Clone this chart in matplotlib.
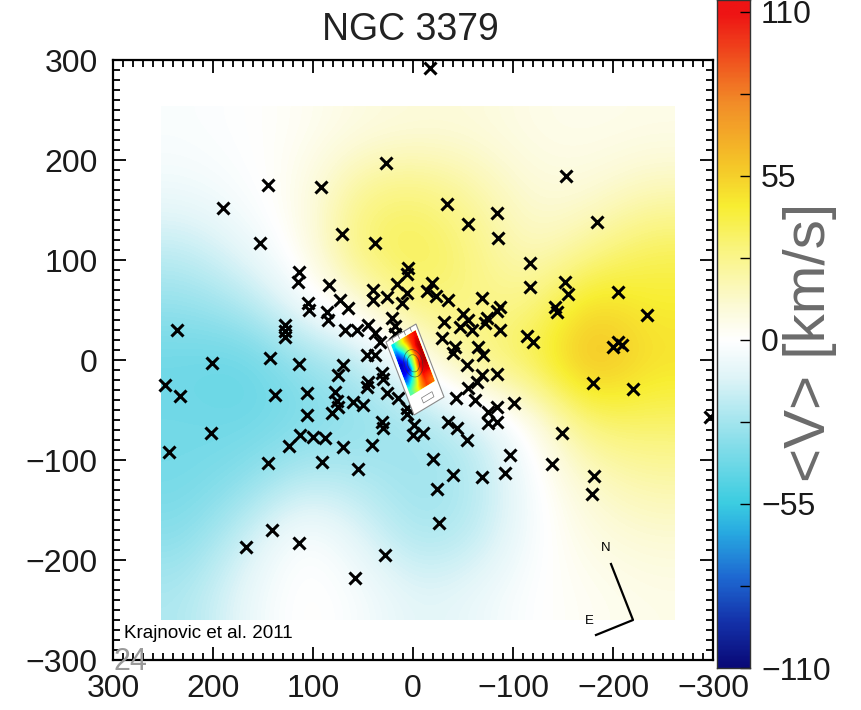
import numpy as np
import matplotlib
matplotlib.use("Agg")
import matplotlib.pyplot as plt
from matplotlib.colors import LinearSegmentedColormap, Normalize
from matplotlib.transforms import Affine2D
from matplotlib.patches import Rectangle, Ellipse
from matplotlib.ticker import MultipleLocator, FixedLocator

plt.rcParams['font.family'] = ['Liberation Sans', 'DejaVu Sans']

# ---------------------------------------------------------------------------
# Planetary nebula positions (arcsec, x = east offset, y = north offset)
pn_x = [-17, 27, 190, 145, 92, 71, 153, 38, -153, -34, -55, -84, -85, -184,
        -117, 114, 115, 84, 5, 6, 16, 6, 40, 40, 26, 11, 73, 65, 105, 104,
        86, 85, 128, 128, 128, 68, 56, 45, 38, 21, 18, 18, -19, -14, -23,
        -35, -69, -87, -84, -50, -55, -74, -72, -47, -31, -59, -87, -29,
        -114, -120, -42, -65, -117, -152, -155, -142, -144, -205, -234, -200,
        -205, -209, -180, -220, -297, -70, -54, -40, -69, -84, -64, -55, -43,
        -62, -84, -75, -101, -84, -75, -35, -44, -54, -10, -149, -97, -20,
        -139, -40, -69, -92, -181, -24, -179, -26, 167, 141, 114, 58, 28,
        236, 201, 248, 233, 202, 244, 145, 143, 114, 138, 106, 106, 70, 75,
        46, 38, 78, 76, 81, 75, 60, 50, 46, 45, 31, 30, 26, 15, 6, 6, 31, 30,
        -1, 0, 113, 100, 88, 124, 70, 41, 91, 55, 33]
pn_y = [292, 197, 152, 175, 173, 126, 117, 117, 184, 156, 136, 147, 122, 138,
        97, 88, 78, 75, 92, 86, 76, 67, 70, 60, 63, 57, 60, 52, 57, 50,
        48, 40, 35, 29, 23, 30, 30, 35, 27, 42, 34, 26, 77, 69, 64,
        60, 62, 53, 49, 46, 40, 42, 37, 33, 38, 30, 30, 22,
        24, 18, 13, 13, 73, 78, 66, 53, 48, 68, 45, 13,
        18, 15, -23, -29, -57, 5, -5, 7, -15, -14, -22, -28, -38,
        -40, -47, -52, -43, -62, -63, -62, -68, -80, -73, -73, -95, -99,
        -104, -115, -117, -113, -116, -129, -134, -163, -187, -170, -183, -218, -195,
        30, -3, -25, -36, -73, -92, -103, 2, -4, -35, -33, -55, -5, -15,
        5, 5, -32, -41, -53, -47, -42, -45, -27, -22, -13, -19, -33, -38, -48, -54, -62, -68,
        -65, -75, -75, -77, -78, -86, -87, -85, -102, -109, 18]

# Smoothed PN mean velocity field (km/s) on a coarse grid,
# rows from north (top) to south, columns from east (left) to west
field_v = [
    [-2, 0, 3, 8, 10, 10, 6, 5, 6],
    [-6, -2, 6, 28, 32, 22, 10, 10, 18],
    [-20, -8, 4, 36, 40, 30, 14, 25, 38],
    [-32, -25, -5, 10, 34, 28, 28, 55, 45],
    [-42, -45, -32, -25, 0, 32, 40, 68, 50],
    [-40, -42, -38, -32, -28, -18, 3, 35, 35],
    [-40, -35, -22, -25, -30, -25, -3, 15, 22],
    [-35, -18, 2, -12, -28, -22, -3, 8, 12],
    [-25, -8, 3, -3, -12, -8, 0, 3, 6],
]
field_extent = (252, -262, -260, 254)

# Central integral-field velocity map (relative units), rows top to bottom
inset_v = [
    [-0.3, 0.1, 0.4, 0.7, 0.8],
    [-0.6, -0.3, 0.2, 0.7, 0.9],
    [-0.9, -0.6, 0.0, 0.6, 0.9],
    [-0.8, -0.7, 0.1, 0.8, 0.9],
    [-0.5, -0.2, 0.4, 0.8, 0.8],
    [-0.1, 0.2, 0.5, 0.7, 0.6],
]
# corners of the inset map (arcsec): lower-left, lower-right, upper-left
inset_ll = (-1, -55)
inset_lr = (-31, -37)
inset_ul = (27, 18)

cbar_major = [-110, -55, 0, 55, 110]
cbar_minor = [-82.5, -27.5, 27.5, 82.5]
vmin, vmax = -110, 110

# compass arms (arcsec)
compass_x = [-198, -220, -183]
compass_y = [-204, -260, -275]

# ---------------------------------------------------------------------------
stops = [
    (-110, (10, 10, 120)),
    (-95, (20, 50, 170)),
    (-80, (30, 105, 210)),
    (-65, (40, 170, 225)),
    (-55, (60, 205, 225)),
    (-35, (135, 222, 234)),
    (-12, (225, 245, 248)),
    (0, (255, 255, 255)),
    (12, (252, 250, 212)),
    (30, (250, 245, 130)),
    (45, (248, 238, 50)),
    (60, (245, 195, 40)),
    (80, (242, 140, 40)),
    (95, (240, 80, 30)),
    (110, (238, 20, 20)),
]
cmap = LinearSegmentedColormap.from_list(
    "vel", [((v - vmin) / (vmax - vmin), tuple(c / 255 for c in rgb)) for v, rgb in stops])
norm = Normalize(vmin, vmax)

W, H = 861, 710
fig = plt.figure(figsize=(W / 100, H / 100), dpi=100)
ax = fig.add_axes([113 / W, 1 - 660 / H, 600 / W, 600 / H])
ax.set_zorder(2)

ax.imshow(np.array(field_v, float), extent=field_extent, cmap=cmap, norm=norm,
          interpolation='bicubic', aspect='auto', zorder=1)

ax.plot(pn_x, pn_y, linestyle='none', marker='x', markersize=8.8,
        markeredgewidth=2.2, color='black', zorder=3)

# inset velocity map, drawn in a skewed frame
a = inset_lr[0] - inset_ll[0]
b = inset_lr[1] - inset_ll[1]
c = inset_ul[0] - inset_ll[0]
d = inset_ul[1] - inset_ll[1]
aff = Affine2D(np.array([[a, c, inset_ll[0]], [b, d, inset_ll[1]], [0, 0, 1]])) + ax.transData
ax.add_patch(Rectangle((0, 0), 1, 1, transform=aff, facecolor='white',
                       edgecolor='#8a8a8a', lw=0.8, zorder=5))
ax.imshow(np.array(inset_v), extent=(0.1, 0.92, 0.24, 0.93), transform=aff,
          cmap='jet', vmin=-1, vmax=1, interpolation='bilinear', zorder=6)
for w, h in [(0.55, 0.35), (0.35, 0.22)]:
    ax.add_patch(Ellipse((0.52, 0.58), w, h, transform=aff, fill=False,
                         edgecolor='#333333', lw=0.5, alpha=0.7, zorder=7))
ax.add_patch(Rectangle((0.38, 0.07), 0.35, 0.07, transform=aff, fill=False,
                       edgecolor='#777777', lw=0.5, zorder=7))
for u in [0.2, 0.4, 0.6, 0.8]:
    ax.plot([u, u], [0.95, 1.0], transform=aff, color='#666666', lw=0.5, zorder=7)

# compass
ax.plot(compass_x, compass_y, color='black', lw=1.6, zorder=4)
ax.text(-193, -188, 'N', fontsize=9.5, ha='center', va='center', zorder=4)
ax.text(-176, -261, 'E', fontsize=9.5, ha='center', va='center', zorder=4)

ax.set_xlim(300, -300)
ax.set_ylim(-300, 300)
ax.xaxis.set_major_locator(MultipleLocator(100))
ax.yaxis.set_major_locator(MultipleLocator(100))
ax.xaxis.set_minor_locator(MultipleLocator(10))
ax.yaxis.set_minor_locator(MultipleLocator(10))
ax.tick_params(which='both', direction='in', top=True, right=True, width=1.3, color='black')
ax.tick_params(which='major', length=9.5)
ax.tick_params(which='minor', length=5)
ax.tick_params(axis='x', labelsize=23, pad=10, labelcolor='#1a1a1a')
ax.tick_params(axis='y', labelsize=23, pad=11, labelcolor='#1a1a1a')
for s in ax.spines.values():
    s.set_linewidth(1.6)

ax.text(0.018, 0.045, 'Krajnovic et al. 2011', transform=ax.transAxes,
        fontsize=13.5, ha='left', va='center', zorder=4)

# colour bar
cax = fig.add_axes([717 / W, 1 - 668 / H, 33 / W, 668 / H])
cax.set_zorder(1)
lo, hi = -110, 114
grad = np.linspace(lo, hi, 400).reshape(-1, 1)
cax.imshow(grad, extent=(0, 1, lo, hi), origin='lower', aspect='auto',
           cmap=cmap, norm=norm, interpolation='bilinear')
cax.set_xlim(0, 1)
cax.set_ylim(lo, hi)
cax.set_xticks([])
cax.yaxis.tick_right()
cax.yaxis.set_major_locator(FixedLocator(cbar_major))
cax.yaxis.set_minor_locator(FixedLocator(cbar_minor))
cax.set_yticklabels([f'{t:d}'.replace('-', '\u2212') for t in cbar_major])
cax.tick_params(which='both', direction='in', length=7, width=1.0, labelsize=23,
                pad=8, labelcolor='#1a1a1a')
for s in cax.spines.values():
    s.set_linewidth(1.0)
    s.set_color('#333333')

fig.text(810 / W, 1 - 342 / H, '<V> [km/s]', rotation=90, color='#6b6b6b',
         fontsize=42, ha='center', va='center')
fig.text(410 / W, 1 - 30 / H, 'NGC 3379', fontsize=27, color='#222222',
         ha='center', va='center')
fig.text(130 / W, 1 - 662 / H, '24', fontsize=22, color='#9a9a9a', ha='center', va='center')

fig.savefig('out.png', dpi=100)
